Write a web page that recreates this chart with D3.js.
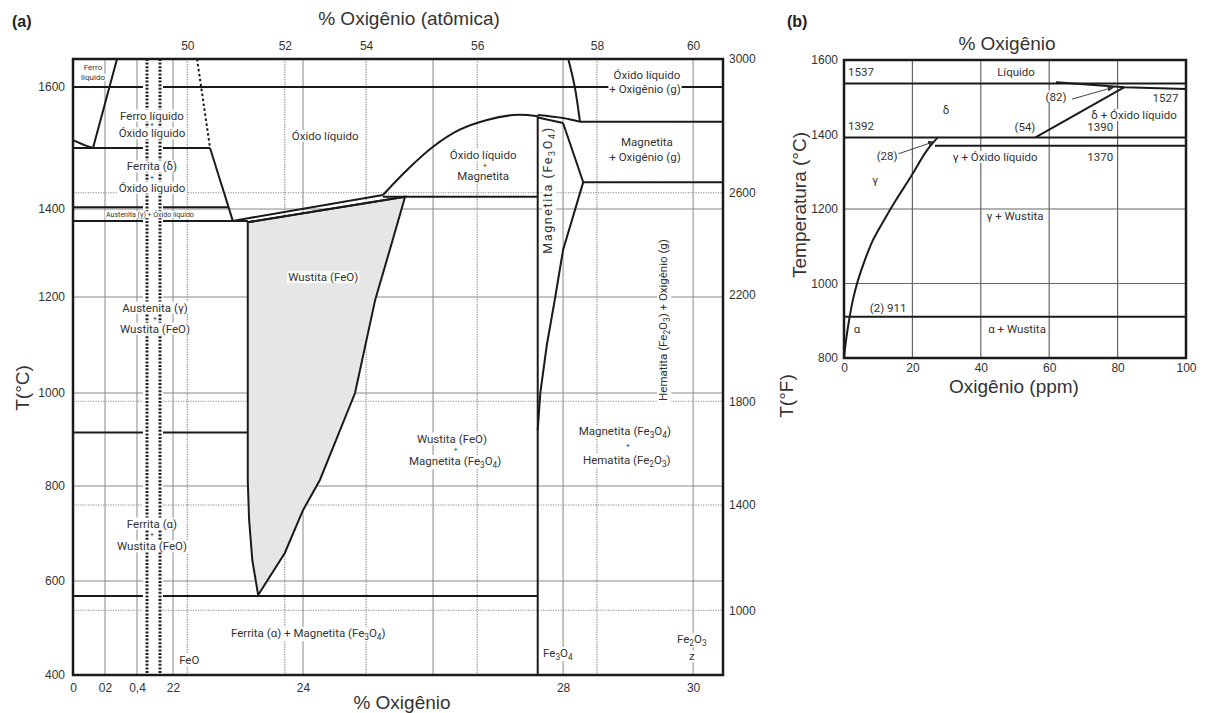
<!DOCTYPE html>
<meta charset="utf-8">
<style>
  body { margin: 0; background: #fff; }
  svg text { font-family: "Liberation Sans", Arial, sans-serif; }
  .tick text { font-family: "Liberation Sans", Arial, sans-serif; font-size: 12px; fill: #333; }
  .lab { font-family: Roboto, "Liberation Sans", sans-serif; font-size: 11.5px; fill: #333; }
  .lab.sm { font-size: 8px; }
  .lab.xs { font-size: 7px; }
  .lab.plus { font-size: 7px; }
  .title { font-size: 19px; fill: #333; }
  .phase { fill: none; stroke: #1a1a1a; stroke-width: 2; }
</style>
<body>
<script src="https://d3js.org/d3.v7.min.js"></script>
<script>
  // ---------- painel (a): diagrama Fe-O ----------
  var tempTicksC = [400, 600, 800, 1000, 1200, 1400, 1600];
  var tempTicksF = [1000, 1400, 1800, 2200, 2600, 3000];
  var fDotted = [1000, 1400, 1800, 2600];
  var wtTicks = [0, 0.2, 0.4, 22, 24, 28, 30];
  var wtTickLabels = ["0", "02", "0,4", "22", "24", "28", "30"];
  var wtGrid = [0.2, 0.4, 22, 24, 26, 28, 30];
  var atTicks = [50, 52, 54, 56, 58, 60];
  var atTicksWt = [22.22, 23.72, 24.97, 26.68, 28.52, 30.0]; // onde a figura coloca cada % atômica
  var cGrid = [600, 800, 1000, 1200, 1400];
  var breakWt = [0.5, 21.9]; // quebra do eixo

  // linhas de fase [% O em peso, °C]
  var feLiquidus = [[0.275, 1648], [0.125, 1500]];
  var deltaLiquidus = [[0, 1513], [0.09, 1503], [0.125, 1500]];
  var monotectic = [[0, 1500], [22.57, 1500]];
  var missGap = [[22.37, 1648], [22.57, 1500]];
  var oxLiqLeft = [[22.57, 1500], [22.92, 1373]];
  var deltaGamma = [[0, 1403], [22.85, 1403]];
  var eutectic1371 = [[0, 1373], [23.15, 1373]];
  var wustLiquidus = [[22.92, 1373], [25.23, 1423]];
  var magLiquidus = [[25.23, 1423], [25.6, 1464], [26.0, 1502], [26.41, 1530], [26.83, 1546], [27.23, 1554], [27.45, 1554], [27.61, 1552]];
  var wustSolidus = [[23.15, 1370], [25.57, 1420]];
  var eutectic1424 = [[25.23, 1420], [27.61, 1420]];
  var alphaGamma = [[0, 915], [23.15, 915]];
  var eutectoid = [[0, 568], [27.61, 568]];
  var magnetiteLeft = [[27.61, 1552], [27.61, 400]];
  var magnetiteRight = [[28.0, 1541], [28.31, 1444], [28.0, 1307], [27.88, 1200], [27.75, 1100], [27.65, 1000], [27.61, 920]];
  var magTopUpper = [[27.61, 1554], [28.0, 1549], [28.26, 1543]];
  var magTopLower = [[27.61, 1550], [28.0, 1541]];
  var oxLiqRight = [[28.08, 1648], [28.18, 1600], [28.26, 1543]];
  var line1583 = [[28.26, 1543], [30.46, 1543]];
  var line1457 = [[28.31, 1444], [30.46, 1444]];
  var line1600 = [[0, 1600], [30.46, 1600]];
  var wustiteField = [[23.15, 1370], [23.15, 813], [23.17, 730], [23.22, 644], [23.31, 570],
                      [23.72, 659], [24.0, 749], [24.26, 813], [24.8, 1000], [25.11, 1194], [25.38, 1330], [25.57, 1420]];

  var labelsA = [
    {t: "Ferro", x: 0.125, y: 1634, c: "sm"},
    {t: "líquido", x: 0.125, y: 1617, c: "sm"},
    {t: "Ferro líquido", x: 8.7, y: 1553},
    {t: "Óxido líquido", x: 8.7, y: 1524},
    {t: "Ferrita (δ)", x: 8.7, y: 1470},
    {t: "Óxido líquido", x: 8.7, y: 1435},
    {t: "Austenita (γ) + Óxido líquido", x: 5.4, y: 1387, c: "xs"},
    {t: "Óxido líquido", x: 24.34, y: 1520},
    {t: "Óxido líquido", x: 26.77, y: 1488},
    {t: "Magnetita", x: 26.77, y: 1454},
    {t: "Óxido líquido", x: 29.29, y: 1620},
    {t: "+ Oxigênio (g)", x: 29.26, y: 1597},
    {t: "Magnetita", x: 29.29, y: 1510},
    {t: "+ Oxigênio (g)", x: 29.26, y: 1485},
    {t: "Wustita (FeO)", x: 24.31, y: 1245},
    {t: "Austenita (γ)", x: 13.7, y: 1178},
    {t: "Wustita (FeO)", x: 13.7, y: 1134},
    {t: "Wustita (FeO)", x: 26.29, y: 902},
    {t: "Magnetita (Fe_3O_4)", x: 26.34, y: 854},
    {t: "Magnetita (Fe_3O_4)", x: 28.95, y: 919},
    {t: "Hematita (Fe_2O_3)", x: 28.98, y: 857},
    {t: "Ferrita (α)", x: 8.7, y: 721},
    {t: "Wustita (FeO)", x: 8.7, y: 673},
    {t: "Ferrita (α) + Magnetita (Fe_3O_4)", x: 24.08, y: 489},
    {t: "FeO", x: 22.25, y: 432},
    {t: "Fe_3O_4", x: 27.92, y: 447},
    {t: "Fe_2O_3", x: 29.98, y: 476},
    {t: "z", x: 29.98, y: 440}
  ];
  // sinais "+" entre as duas linhas de cada campo bifásico
  var plusA = [[8.9, 1539], [8.9, 1452], [26.8, 1471], [13.8, 1156], [26.35, 878], [29.0, 888], [8.9, 697]];
  var vLabelsA = [
    {t: "Magnetita (Fe_3O_4)", x: 27.77, y: 1431, c: "wide"},
    {t: "Hematita (Fe_2O_3) + Oxigênio (g)", x: 29.54, y: 1152}
  ];

  // ---------- painel (b): detalhe do ferro ----------
  var ppmTicks = [0, 20, 40, 60, 80, 100];
  var bTempTicks = [800, 1000, 1200, 1400, 1600];
  var bGridX = [20, 40, 60, 80];
  var bGridY = [1000, 1200];
  var gammaSolvus = [[0, 800], [0.6, 848], [1.5, 902], [2.6, 956], [4.1, 1009], [6.1, 1063], [8.5, 1117],
                     [11.7, 1170], [15.2, 1224], [19.3, 1283], [24.3, 1358], [27.5, 1393]];
  var bLiquid = [[0, 1537], [100, 1537]];
  var bDeltaGamma = [[0, 1392], [100, 1392]];
  var bEutectic = [[26.6, 1370], [100, 1370]];
  var bAlphaGamma = [[0, 911], [100, 911]];
  var deltaSolvus = [[56, 1392], [82, 1527]];
  var bMonotectic = [[62, 1540], [82, 1527], [100, 1522]];
  var arrowsB = [[[14.9, 1345], [26.4, 1381]], [[66.7, 1495], [78.9, 1527]]];
  var labelsB = [
    {t: "1537", x: 1.2, y: 1568, a: "start"},
    {t: "Líquido", x: 50.3, y: 1568},
    {t: "δ", x: 29.8, y: 1466},
    {t: "1527", x: 94, y: 1498},
    {t: "δ + Óxido líquido", x: 84.8, y: 1452},
    {t: "(54)", x: 52.9, y: 1420},
    {t: "1390", x: 74.9, y: 1420},
    {t: "1392", x: 1.2, y: 1423, a: "start"},
    {t: "(28)", x: 12.6, y: 1342},
    {t: "γ + Óxido líquido", x: 44.2, y: 1340},
    {t: "1370", x: 74.9, y: 1340},
    {t: "γ", x: 9.1, y: 1278},
    {t: "γ + Wustita", x: 50, y: 1181},
    {t: "(82)", x: 62, y: 1502},
    {t: "(2) 911", x: 12.9, y: 934},
    {t: "α", x: 3.8, y: 878},
    {t: "α + Wustita", x: 50.6, y: 878}
  ];

  var svg = d3.select("body").append("svg").attr("width", 1205).attr("height", 713);

  // escalas (a): eixo quebrado, não uniforme como na figura
  var xWt = d3.scaleLinear().domain([0, 0.4, 0.5, 21.9, 22, 30.46]).range([73, 137, 147, 160, 173, 723]);
  var yC = d3.scaleLinear().domain([400, 600, 800, 1000, 1200, 1400, 1600, 1648]).range([675, 581, 486, 393, 297, 209, 87, 59]);
  var xAt = d3.scaleLinear().domain(atTicks).range(atTicksWt.map(xWt));
  var f2c = function(f) { return (f - 32) * 5 / 9; };
  var yF = d3.scaleLinear().domain(tempTicksF).range(tempTicksF.map(function(f) { return yC(f2c(f)); }));

  var pLeft = xWt(0), pRight = xWt(30.46), pTop = yC(1648), pBottom = yC(400);

  var lineA = d3.line().x(function(d) { return xWt(d[0]); }).y(function(d) { return yC(d[1]); });
  var curveA = d3.line().x(function(d) { return xWt(d[0]); }).y(function(d) { return yC(d[1]); })
          .curve(d3.curveCatmullRom.alpha(0.5));

  function richText(sel, str) {
    var shifted = false;
    str.split(/(_\d)/).forEach(function(part) {
      if (!part) return;
      if (part.charAt(0) === "_") {
        sel.append("tspan").attr("dy", 3).attr("font-size", "0.72em").text(part.slice(1));
        shifted = true;
      } else {
        var ts = sel.append("tspan").text(part);
        if (shifted) { ts.attr("dy", -3); shifted = false; }
      }
    });
  }

  // rótulo com fundo branco (interrompe as linhas da grade, como no original)
  function addLabel(parent, x, y, str, cls, rot, anchor) {
    var g = parent.append("g").attr("transform", "translate(" + x + "," + y + ")" + (rot ? " rotate(" + rot + ")" : ""));
    var t = g.append("text").attr("class", "lab" + (cls ? " " + cls : ""))
            .attr("dy", "0.35em").attr("text-anchor", anchor || "middle");
    richText(t, str);
    var bb = t.node().getBBox();
    g.insert("rect", "text").attr("x", bb.x - 1).attr("y", bb.y + 1)
            .attr("width", bb.width + 2).attr("height", bb.height - 2).attr("fill", "#fff");
    return t;
  }

  var ga = svg.append("g");

  // grade
  ga.selectAll(".vgrid").data(wtGrid).enter().append("line")
          .attr("x1", xWt).attr("x2", xWt).attr("y1", pTop).attr("y2", pBottom)
          .attr("stroke", "#888").attr("stroke-width", 1);
  ga.selectAll(".vdot").data(atTicks.slice(0, 5)).enter().append("line")
          .attr("x1", xAt).attr("x2", xAt).attr("y1", pTop).attr("y2", pBottom)
          .attr("stroke", "#888").attr("stroke-width", 1.2).attr("stroke-dasharray", "1.2,1.3");
  ga.selectAll(".hgrid").data(cGrid).enter().append("line")
          .attr("x1", pLeft).attr("x2", pRight).attr("y1", yC).attr("y2", yC)
          .attr("stroke", "#888").attr("stroke-width", 1);
  ga.selectAll(".hdot").data(fDotted).enter().append("line")
          .attr("x1", pLeft).attr("x2", pRight)
          .attr("y1", function(d) { return yF(d); }).attr("y2", function(d) { return yF(d); })
          .attr("stroke", "#888").attr("stroke-width", 1.2).attr("stroke-dasharray", "1.2,1.3");

  // campo da wustita
  ga.append("path").attr("d", lineA(wustiteField) + "Z")
          .attr("fill", "#e6e6e6").attr("stroke", "#1a1a1a").attr("stroke-width", 2);

  [feLiquidus, monotectic, oxLiqLeft, deltaGamma, eutectic1371, wustLiquidus, wustSolidus, eutectic1424,
    alphaGamma, eutectoid, magnetiteRight, line1583, line1457, line1600, magTopLower].forEach(function(p) {
    ga.append("path").attr("class", "phase").attr("d", lineA(p));
  });
  [deltaLiquidus, magLiquidus, magTopUpper, oxLiqRight].forEach(function(p) {
    ga.append("path").attr("class", "phase").attr("d", curveA(p));
  });
  ga.append("path").attr("class", "phase").attr("d", lineA(missGap))
          .attr("stroke-width", 2.6).attr("stroke-dasharray", "2.5,2.5");
  ga.append("path").attr("class", "phase").attr("d", lineA(magnetiteLeft)).attr("stroke-width", 2.6);

  // quebra do eixo
  ga.append("rect").attr("x", xWt(breakWt[0]) - 4).attr("y", pTop + 1)
          .attr("width", xWt(breakWt[1]) - xWt(breakWt[0]) + 7).attr("height", pBottom - pTop - 2)
          .attr("fill", "#fff");
  ga.selectAll(".brk").data(breakWt).enter().append("line")
          .attr("x1", xWt).attr("x2", xWt).attr("y1", pTop).attr("y2", pBottom)
          .attr("stroke", "#222").attr("stroke-width", 3).attr("stroke-dasharray", "2,1.6");

  ga.append("rect").attr("x", pLeft).attr("y", pTop).attr("width", pRight - pLeft).attr("height", pBottom - pTop)
          .attr("fill", "none").attr("stroke", "#1a1a1a").attr("stroke-width", 2.5);

  // eixos
  function styleAxis(g) { g.select(".domain").remove(); g.attr("font-family", null).attr("font-size", null); }
  ga.append("g").attr("transform", "translate(" + (pLeft - 2) + ",0)")
          .call(d3.axisLeft(yC).tickValues(tempTicksC).tickSize(0).tickPadding(6).tickFormat(d3.format("d"))).call(styleAxis);
  ga.append("g").attr("transform", "translate(" + (pRight + 2) + ",0)")
          .call(d3.axisRight(yF).tickValues(tempTicksF).tickSize(0).tickPadding(4).tickFormat(d3.format("d"))).call(styleAxis);
  ga.append("g").attr("transform", "translate(0," + (pBottom + 2) + ")")
          .call(d3.axisBottom(xWt).tickValues(wtTicks).tickSize(0).tickPadding(6)
                  .tickFormat(function(d, i) { return wtTickLabels[i]; })).call(styleAxis);
  ga.append("g").attr("transform", "translate(0," + (pTop - 3) + ")")
          .call(d3.axisTop(xAt).tickValues(atTicks).tickSize(0).tickPadding(6).tickFormat(d3.format("d"))).call(styleAxis);

  ga.append("text").attr("class", "title").attr("x", 409).attr("y", 25).attr("text-anchor", "middle").text("% Oxigênio (atômica)");
  ga.append("text").attr("class", "title").attr("x", 402).attr("y", 709).attr("text-anchor", "middle").text("% Oxigênio");
  ga.append("text").attr("class", "title").attr("transform", "translate(29,388) rotate(-90)").attr("text-anchor", "middle").text("T(°C)");
  ga.append("text").attr("class", "title").attr("transform", "translate(793,396) rotate(-90)").attr("text-anchor", "middle").text("T(°F)");
  ga.append("text").attr("x", 12).attr("y", 27).attr("font-weight", "bold").attr("font-size", 16).attr("fill", "#222").text("(a)");

  labelsA.forEach(function(l) { addLabel(ga, xWt(l.x), yC(l.y), l.t, l.c); });
  vLabelsA.forEach(function(l) {
    var t = addLabel(ga, xWt(l.x), yC(l.y), l.t, null, -90);
    if (l.c === "wide") t.style("font-size", "12.5px").style("letter-spacing", "1.6px");
  });
  ga.selectAll(".plus").data(plusA).enter().append("text").attr("class", "lab plus")
          .attr("x", function(d) { return xWt(d[0]); }).attr("y", function(d) { return yC(d[1]); })
          .attr("dy", "0.35em").attr("text-anchor", "middle").text("+");

  // ---------- painel (b) ----------
  var xB = d3.scaleLinear().domain([0, 100]).range([844, 1186]);
  var yB = d3.scaleLinear().domain([800, 1600]).range([358, 60]);
  var lineB = d3.line().x(function(d) { return xB(d[0]); }).y(function(d) { return yB(d[1]); });
  var curveB = d3.line().x(function(d) { return xB(d[0]); }).y(function(d) { return yB(d[1]); })
          .curve(d3.curveCatmullRom.alpha(0.5));
  var gb = svg.append("g");

  gb.selectAll(".bgx").data(bGridX).enter().append("line")
          .attr("x1", xB).attr("x2", xB).attr("y1", yB(1600)).attr("y2", yB(800))
          .attr("stroke", "#666").attr("stroke-width", 1.2);
  gb.selectAll(".bgy").data(bGridY).enter().append("line")
          .attr("x1", xB(0)).attr("x2", xB(100)).attr("y1", yB).attr("y2", yB)
          .attr("stroke", "#666").attr("stroke-width", 1.2);

  [bLiquid, bDeltaGamma, bEutectic, bAlphaGamma, deltaSolvus].forEach(function(p) {
    gb.append("path").attr("class", "phase").attr("d", lineB(p));
  });
  gb.append("path").attr("class", "phase").attr("d", lineB(bMonotectic)).attr("stroke-width", 1.4);
  gb.append("path").attr("class", "phase").attr("d", curveB(gammaSolvus)).attr("stroke-width", 2.2);

  svg.append("defs").append("marker").attr("id", "arr").attr("viewBox", "0 0 10 10")
          .attr("refX", 9).attr("refY", 5).attr("markerWidth", 7).attr("markerHeight", 7).attr("orient", "auto")
          .append("path").attr("d", "M0,1L10,5L0,9Z").attr("fill", "#333");
  arrowsB.forEach(function(a) {
    gb.append("path").attr("d", lineB(a)).attr("stroke", "#444").attr("stroke-width", 1)
            .attr("fill", "none").attr("marker-end", "url(#arr)");
  });

  gb.append("rect").attr("x", xB(0)).attr("y", yB(1600)).attr("width", xB(100) - xB(0)).attr("height", yB(800) - yB(1600))
          .attr("fill", "none").attr("stroke", "#1a1a1a").attr("stroke-width", 2.5);

  gb.append("g").attr("transform", "translate(" + (xB(0) - 2) + ",0)")
          .call(d3.axisLeft(yB).tickValues(bTempTicks).tickSize(0).tickPadding(4).tickFormat(d3.format("d"))).call(styleAxis);
  gb.append("g").attr("transform", "translate(0," + (yB(800) + 1) + ")")
          .call(d3.axisBottom(xB).tickValues(ppmTicks).tickSize(0).tickPadding(4)).call(styleAxis);

  gb.append("text").attr("class", "title").attr("x", 1007).attr("y", 50).attr("text-anchor", "middle").text("% Oxigênio");
  gb.append("text").attr("class", "title").attr("x", 1014).attr("y", 393).attr("text-anchor", "middle").text("Oxigênio (ppm)");
  gb.append("text").attr("class", "title").attr("transform", "translate(806,205) rotate(-90)").attr("text-anchor", "middle").text("Temperatura (°C)");
  gb.append("text").attr("x", 787).attr("y", 27).attr("font-weight", "bold").attr("font-size", 16).attr("fill", "#222").text("(b)");

  labelsB.forEach(function(l) { addLabel(gb, xB(l.x), yB(l.y), l.t, null, 0, l.a); });
</script>
</body>
